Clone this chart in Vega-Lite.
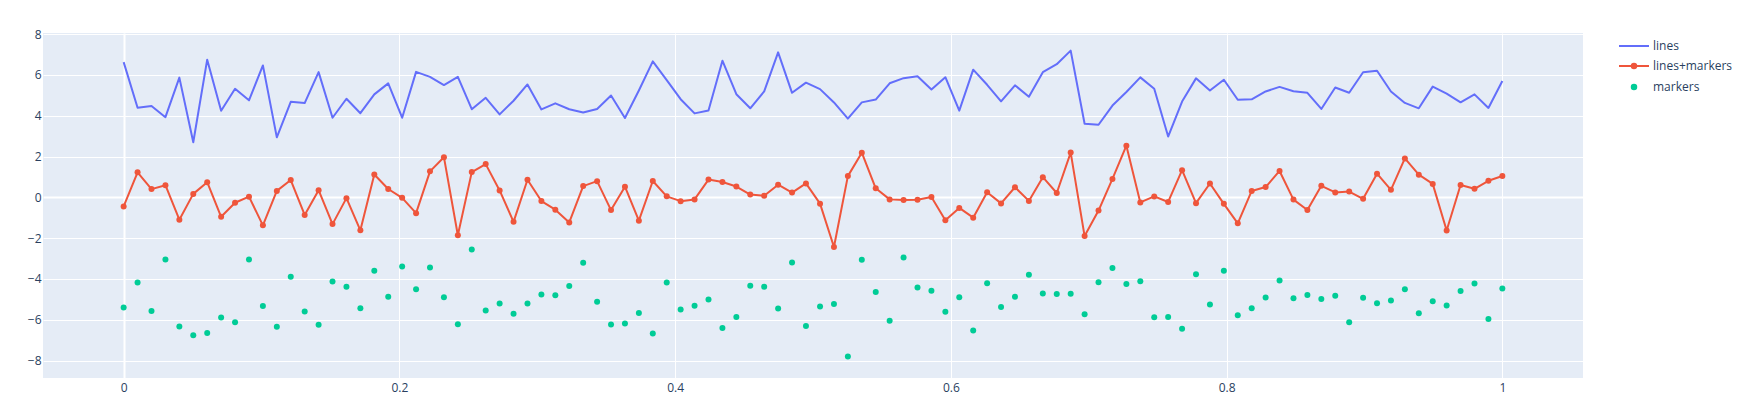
{
  "$schema": "https://vega.github.io/schema/vega-lite/v6.json",
  "autosize": {"type": "none"},
  "width": 1540,
  "height": 345,
  "padding": {"left": 43, "top": 33, "right": 175, "bottom": 35},
  "background": "white",
  "view": {"fill": "#E5ECF6", "stroke": null},
  "config": {
    "font": "Open Sans",
    "axis": {
      "domain": false,
      "ticks": false,
      "title": null,
      "grid": true,
      "gridColor": "white",
      "gridWidth": {"condition": {"test": "datum.value === 0", "value": 2}, "value": 1},
      "labelFont": "Open Sans",
      "labelFontSize": 12,
      "labelColor": "#2a3f5f"
    }
  },
  "datasets": {
    "pts": [
      {"series":"lines","x":0,"y":6.624},{"series":"lines","x":0.0101,"y":4.388},{"series":"lines","x":0.0202,"y":4.472},{"series":"lines","x":0.0303,"y":3.927},{"series":"lines","x":0.0404,"y":5.865},
      {"series":"lines","x":0.0505,"y":2.698},{"series":"lines","x":0.0606,"y":6.745},{"series":"lines","x":0.0707,"y":4.239},{"series":"lines","x":0.0808,"y":5.319},{"series":"lines","x":0.0909,"y":4.751},
      {"series":"lines","x":0.101,"y":6.462},{"series":"lines","x":0.1111,"y":2.94},{"series":"lines","x":0.1212,"y":4.678},{"series":"lines","x":0.1313,"y":4.616},{"series":"lines","x":0.1414,"y":6.134},
      {"series":"lines","x":0.1515,"y":3.9},{"series":"lines","x":0.1616,"y":4.828},{"series":"lines","x":0.1717,"y":4.122},{"series":"lines","x":0.1818,"y":5.042},{"series":"lines","x":0.1919,"y":5.583},
      {"series":"lines","x":0.202,"y":3.899},{"series":"lines","x":0.2121,"y":6.145},{"series":"lines","x":0.2222,"y":5.902},{"series":"lines","x":0.2323,"y":5.502},{"series":"lines","x":0.2424,"y":5.901},
      {"series":"lines","x":0.2525,"y":4.316},{"series":"lines","x":0.2626,"y":4.877},{"series":"lines","x":0.2727,"y":4.064},{"series":"lines","x":0.2828,"y":4.732},{"series":"lines","x":0.2929,"y":5.53},
      {"series":"lines","x":0.303,"y":4.308},{"series":"lines","x":0.3131,"y":4.603},{"series":"lines","x":0.3232,"y":4.313},{"series":"lines","x":0.3333,"y":4.155},{"series":"lines","x":0.3434,"y":4.329},
      {"series":"lines","x":0.3535,"y":4.987},{"series":"lines","x":0.3636,"y":3.883},{"series":"lines","x":0.3737,"y":5.234},{"series":"lines","x":0.3838,"y":6.66},{"series":"lines","x":0.3939,"y":5.742},
      {"series":"lines","x":0.404,"y":4.808},{"series":"lines","x":0.4141,"y":4.112},{"series":"lines","x":0.4242,"y":4.253},{"series":"lines","x":0.4343,"y":6.692},{"series":"lines","x":0.4444,"y":5.051},
      {"series":"lines","x":0.4545,"y":4.363},{"series":"lines","x":0.4646,"y":5.191},{"series":"lines","x":0.4747,"y":7.1},{"series":"lines","x":0.4848,"y":5.12},{"series":"lines","x":0.4949,"y":5.617},
      {"series":"lines","x":0.5051,"y":5.3},{"series":"lines","x":0.5152,"y":4.648},{"series":"lines","x":0.5253,"y":3.857},{"series":"lines","x":0.5354,"y":4.651},{"series":"lines","x":0.5455,"y":4.791},
      {"series":"lines","x":0.5556,"y":5.587},{"series":"lines","x":0.5657,"y":5.839},{"series":"lines","x":0.5758,"y":5.931},{"series":"lines","x":0.5859,"y":5.286},{"series":"lines","x":0.596,"y":5.885},
      {"series":"lines","x":0.6061,"y":4.246},{"series":"lines","x":0.6162,"y":6.253},{"series":"lines","x":0.6263,"y":5.513},{"series":"lines","x":0.6364,"y":4.702},{"series":"lines","x":0.6465,"y":5.489},
      {"series":"lines","x":0.6566,"y":4.924},{"series":"lines","x":0.6667,"y":6.132},{"series":"lines","x":0.6768,"y":6.52},{"series":"lines","x":0.6869,"y":7.186},{"series":"lines","x":0.697,"y":3.604},
      {"series":"lines","x":0.7071,"y":3.556},{"series":"lines","x":0.7172,"y":4.496},{"series":"lines","x":0.7273,"y":5.16},{"series":"lines","x":0.7374,"y":5.876},{"series":"lines","x":0.7475,"y":5.316},
      {"series":"lines","x":0.7576,"y":2.978},{"series":"lines","x":0.7677,"y":4.694},{"series":"lines","x":0.7778,"y":5.828},{"series":"lines","x":0.7879,"y":5.23},{"series":"lines","x":0.798,"y":5.762},
      {"series":"lines","x":0.8081,"y":4.778},{"series":"lines","x":0.8182,"y":4.799},{"series":"lines","x":0.8283,"y":5.187},{"series":"lines","x":0.8384,"y":5.41},{"series":"lines","x":0.8485,"y":5.198},
      {"series":"lines","x":0.8586,"y":5.119},{"series":"lines","x":0.8687,"y":4.329},{"series":"lines","x":0.8788,"y":5.378},{"series":"lines","x":0.8889,"y":5.122},{"series":"lines","x":0.899,"y":6.129},
      {"series":"lines","x":0.9091,"y":6.199},{"series":"lines","x":0.9192,"y":5.185},{"series":"lines","x":0.9293,"y":4.625},{"series":"lines","x":0.9394,"y":4.361},{"series":"lines","x":0.9495,"y":5.423},
      {"series":"lines","x":0.9596,"y":5.077},{"series":"lines","x":0.9697,"y":4.656},{"series":"lines","x":0.9798,"y":5.044},{"series":"lines","x":0.9899,"y":4.38},{"series":"lines","x":1,"y":5.698},

      {"series":"lines+markers","x":0,"y":-0.447},{"series":"lines+markers","x":0.0101,"y":1.225},{"series":"lines+markers","x":0.0202,"y":0.403},{"series":"lines+markers","x":0.0303,"y":0.594},{"series":"lines+markers","x":0.0404,"y":-1.095},
      {"series":"lines+markers","x":0.0505,"y":0.169},{"series":"lines+markers","x":0.0606,"y":0.741},{"series":"lines+markers","x":0.0707,"y":-0.954},{"series":"lines+markers","x":0.0808,"y":-0.266},{"series":"lines+markers","x":0.0909,"y":0.033},
      {"series":"lines+markers","x":0.101,"y":-1.373},{"series":"lines+markers","x":0.1111,"y":0.315},{"series":"lines+markers","x":0.1212,"y":0.846},{"series":"lines+markers","x":0.1313,"y":-0.86},{"series":"lines+markers","x":0.1414,"y":0.351},
      {"series":"lines+markers","x":0.1515,"y":-1.312},{"series":"lines+markers","x":0.1616,"y":-0.039},{"series":"lines+markers","x":0.1717,"y":-1.616},{"series":"lines+markers","x":0.1818,"y":1.121},{"series":"lines+markers","x":0.1919,"y":0.409},
      {"series":"lines+markers","x":0.202,"y":-0.025},{"series":"lines+markers","x":0.2121,"y":-0.775},{"series":"lines+markers","x":0.2222,"y":1.274},{"series":"lines+markers","x":0.2323,"y":1.967},{"series":"lines+markers","x":0.2424,"y":-1.858},
      {"series":"lines+markers","x":0.2525,"y":1.236},{"series":"lines+markers","x":0.2626,"y":1.628},{"series":"lines+markers","x":0.2727,"y":0.338},{"series":"lines+markers","x":0.2828,"y":-1.199},{"series":"lines+markers","x":0.2929,"y":0.863},
      {"series":"lines+markers","x":0.303,"y":-0.181},{"series":"lines+markers","x":0.3131,"y":-0.604},{"series":"lines+markers","x":0.3232,"y":-1.23},{"series":"lines+markers","x":0.3333,"y":0.551},{"series":"lines+markers","x":0.3434,"y":0.793},
      {"series":"lines+markers","x":0.3535,"y":-0.624},{"series":"lines+markers","x":0.3636,"y":0.521},{"series":"lines+markers","x":0.3737,"y":-1.144},{"series":"lines+markers","x":0.3838,"y":0.802},{"series":"lines+markers","x":0.3939,"y":0.047},
      {"series":"lines+markers","x":0.404,"y":-0.187},{"series":"lines+markers","x":0.4141,"y":-0.102},{"series":"lines+markers","x":0.4242,"y":0.869},{"series":"lines+markers","x":0.4343,"y":0.75},{"series":"lines+markers","x":0.4444,"y":0.529},
      {"series":"lines+markers","x":0.4545,"y":0.138},{"series":"lines+markers","x":0.4646,"y":0.078},{"series":"lines+markers","x":0.4747,"y":0.618},{"series":"lines+markers","x":0.4848,"y":0.232},{"series":"lines+markers","x":0.4949,"y":0.683},
      {"series":"lines+markers","x":0.5051,"y":-0.31},{"series":"lines+markers","x":0.5152,"y":-2.435},{"series":"lines+markers","x":0.5253,"y":1.039},{"series":"lines+markers","x":0.5354,"y":2.187},{"series":"lines+markers","x":0.5455,"y":0.441},
      {"series":"lines+markers","x":0.5556,"y":-0.1},{"series":"lines+markers","x":0.5657,"y":-0.136},{"series":"lines+markers","x":0.5758,"y":-0.119},{"series":"lines+markers","x":0.5859,"y":0.017},{"series":"lines+markers","x":0.596,"y":-1.122},
      {"series":"lines+markers","x":0.6061,"y":-0.517},{"series":"lines+markers","x":0.6162,"y":-0.997},{"series":"lines+markers","x":0.6263,"y":0.249},{"series":"lines+markers","x":0.6364,"y":-0.297},{"series":"lines+markers","x":0.6465,"y":0.495},
      {"series":"lines+markers","x":0.6566,"y":-0.175},{"series":"lines+markers","x":0.6667,"y":0.986},{"series":"lines+markers","x":0.6768,"y":0.214},{"series":"lines+markers","x":0.6869,"y":2.191},{"series":"lines+markers","x":0.697,"y":-1.896},
      {"series":"lines+markers","x":0.7071,"y":-0.647},{"series":"lines+markers","x":0.7172,"y":0.901},{"series":"lines+markers","x":0.7273,"y":2.528},{"series":"lines+markers","x":0.7374,"y":-0.249},{"series":"lines+markers","x":0.7475,"y":0.044},
      {"series":"lines+markers","x":0.7576,"y":-0.226},{"series":"lines+markers","x":0.7677,"y":1.331},{"series":"lines+markers","x":0.7778,"y":-0.287},{"series":"lines+markers","x":0.7879,"y":0.68},{"series":"lines+markers","x":0.798,"y":-0.32},
      {"series":"lines+markers","x":0.8081,"y":-1.273},{"series":"lines+markers","x":0.8182,"y":0.314},{"series":"lines+markers","x":0.8283,"y":0.503},{"series":"lines+markers","x":0.8384,"y":1.293},{"series":"lines+markers","x":0.8485,"y":-0.11},
      {"series":"lines+markers","x":0.8586,"y":-0.617},{"series":"lines+markers","x":0.8687,"y":0.563},{"series":"lines+markers","x":0.8788,"y":0.241},{"series":"lines+markers","x":0.8889,"y":0.281},{"series":"lines+markers","x":0.899,"y":-0.073},
      {"series":"lines+markers","x":0.9091,"y":1.16},{"series":"lines+markers","x":0.9192,"y":0.369},{"series":"lines+markers","x":0.9293,"y":1.905},{"series":"lines+markers","x":0.9394,"y":1.111},{"series":"lines+markers","x":0.9495,"y":0.659},
      {"series":"lines+markers","x":0.9596,"y":-1.627},{"series":"lines+markers","x":0.9697,"y":0.602},{"series":"lines+markers","x":0.9798,"y":0.42},{"series":"lines+markers","x":0.9899,"y":0.811},{"series":"lines+markers","x":1,"y":1.044},

      {"series":"markers","x":0,"y":-5.401},{"series":"markers","x":0.0101,"y":-4.176},{"series":"markers","x":0.0202,"y":-5.562},{"series":"markers","x":0.0303,"y":-3.045},{"series":"markers","x":0.0404,"y":-6.332},
      {"series":"markers","x":0.0505,"y":-6.761},{"series":"markers","x":0.0606,"y":-6.651},{"series":"markers","x":0.0707,"y":-5.891},{"series":"markers","x":0.0808,"y":-6.119},{"series":"markers","x":0.0909,"y":-3.044},
      {"series":"markers","x":0.101,"y":-5.326},{"series":"markers","x":0.1111,"y":-6.343},{"series":"markers","x":0.1212,"y":-3.886},{"series":"markers","x":0.1313,"y":-5.587},{"series":"markers","x":0.1414,"y":-6.237},
      {"series":"markers","x":0.1515,"y":-4.124},{"series":"markers","x":0.1616,"y":-4.377},{"series":"markers","x":0.1717,"y":-5.435},{"series":"markers","x":0.1818,"y":-3.592},{"series":"markers","x":0.1919,"y":-4.871},
      {"series":"markers","x":0.202,"y":-3.383},{"series":"markers","x":0.2121,"y":-4.497},{"series":"markers","x":0.2222,"y":-3.441},{"series":"markers","x":0.2323,"y":-4.891},{"series":"markers","x":0.2424,"y":-6.22},
      {"series":"markers","x":0.2525,"y":-2.551},{"series":"markers","x":0.2626,"y":-5.546},{"series":"markers","x":0.2727,"y":-5.199},{"series":"markers","x":0.2828,"y":-5.7},{"series":"markers","x":0.2929,"y":-5.203},
      {"series":"markers","x":0.303,"y":-4.757},{"series":"markers","x":0.3131,"y":-4.798},{"series":"markers","x":0.3232,"y":-4.339},{"series":"markers","x":0.3333,"y":-3.208},{"series":"markers","x":0.3434,"y":-5.12},
      {"series":"markers","x":0.3535,"y":-6.233},{"series":"markers","x":0.3636,"y":-6.182},{"series":"markers","x":0.3737,"y":-5.666},{"series":"markers","x":0.3838,"y":-6.674},{"series":"markers","x":0.3939,"y":-4.175},
      {"series":"markers","x":0.404,"y":-5.498},{"series":"markers","x":0.4141,"y":-5.311},{"series":"markers","x":0.4242,"y":-5.002},{"series":"markers","x":0.4343,"y":-6.397},{"series":"markers","x":0.4444,"y":-5.861},
      {"series":"markers","x":0.4545,"y":-4.325},{"series":"markers","x":0.4646,"y":-4.381},{"series":"markers","x":0.4747,"y":-5.443},{"series":"markers","x":0.4848,"y":-3.189},{"series":"markers","x":0.4949,"y":-6.306},
      {"series":"markers","x":0.5051,"y":-5.345},{"series":"markers","x":0.5152,"y":-5.231},{"series":"markers","x":0.5253,"y":-7.793},{"series":"markers","x":0.5354,"y":-3.062},{"series":"markers","x":0.5455,"y":-4.634},
      {"series":"markers","x":0.5556,"y":-6.045},{"series":"markers","x":0.5657,"y":-2.949},{"series":"markers","x":0.5758,"y":-4.414},{"series":"markers","x":0.5859,"y":-4.57},{"series":"markers","x":0.596,"y":-5.606},
      {"series":"markers","x":0.6061,"y":-4.894},{"series":"markers","x":0.6162,"y":-6.526},{"series":"markers","x":0.6263,"y":-4.205},{"series":"markers","x":0.6364,"y":-5.374},{"series":"markers","x":0.6465,"y":-4.866},
      {"series":"markers","x":0.6566,"y":-3.798},{"series":"markers","x":0.6667,"y":-4.715},{"series":"markers","x":0.6768,"y":-4.738},{"series":"markers","x":0.6869,"y":-4.724},{"series":"markers","x":0.697,"y":-5.733},
      {"series":"markers","x":0.7071,"y":-4.164},{"series":"markers","x":0.7172,"y":-3.457},{"series":"markers","x":0.7273,"y":-4.241},{"series":"markers","x":0.7374,"y":-4.115},{"series":"markers","x":0.7475,"y":-5.877},
      {"series":"markers","x":0.7576,"y":-5.868},{"series":"markers","x":0.7677,"y":-6.441},{"series":"markers","x":0.7778,"y":-3.768},{"series":"markers","x":0.7879,"y":-5.254},{"series":"markers","x":0.798,"y":-3.6},
      {"series":"markers","x":0.8081,"y":-5.782},{"series":"markers","x":0.8182,"y":-5.438},{"series":"markers","x":0.8283,"y":-4.905},{"series":"markers","x":0.8384,"y":-4.079},{"series":"markers","x":0.8485,"y":-4.939},
      {"series":"markers","x":0.8586,"y":-4.789},{"series":"markers","x":0.8687,"y":-4.983},{"series":"markers","x":0.8788,"y":-4.823},{"series":"markers","x":0.8889,"y":-6.116},{"series":"markers","x":0.899,"y":-4.919},
      {"series":"markers","x":0.9091,"y":-5.187},{"series":"markers","x":0.9192,"y":-5.057},{"series":"markers","x":0.9293,"y":-4.508},{"series":"markers","x":0.9394,"y":-5.681},{"series":"markers","x":0.9495,"y":-5.085},
      {"series":"markers","x":0.9596,"y":-5.297},{"series":"markers","x":0.9697,"y":-4.583},{"series":"markers","x":0.9798,"y":-4.215},{"series":"markers","x":0.9899,"y":-5.955},{"series":"markers","x":1,"y":-4.46}
    ]
  },
  "data": {"name": "pts"},
  "encoding": {
    "x": {
      "field": "x",
      "type": "quantitative",
      "scale": {"domain": [-0.0585, 1.0585], "nice": false, "zero": false},
      "axis": {"values": [0, 0.2, 0.4, 0.6, 0.8, 1], "format": "~g", "labelPadding": 4}
    },
    "y": {
      "field": "y",
      "type": "quantitative",
      "scale": {"domain": [-8.85, 8.05], "nice": false, "zero": false},
      "axis": {"values": [-8, -6, -4, -2, 0, 2, 4, 6, 8], "labelPadding": 2}
    }
  },
  "layer": [
    {
      "transform": [{"filter": "datum.series === 'lines'"}],
      "mark": {"type": "line", "color": "#636efa", "strokeWidth": 2, "strokeJoin": "round"}
    },
    {
      "transform": [{"filter": "datum.series === 'lines+markers'"}],
      "mark": {"type": "line", "color": "#EF553B", "strokeWidth": 2, "strokeJoin": "round"}
    },
    {
      "transform": [{"filter": "datum.series === 'lines+markers'"}],
      "mark": {"type": "point", "filled": true, "color": "#EF553B", "size": 36, "opacity": 1}
    },
    {
      "transform": [{"filter": "datum.series === 'markers'"}],
      "mark": {"type": "point", "filled": true, "color": "#00cc96", "size": 36, "opacity": 1}
    },
    {
      "transform": [{"filter": "datum.x === 0"}],
      "mark": {"type": "point", "filled": true, "opacity": 0},
      "encoding": {
        "color": {
          "field": "series",
          "type": "nominal",
          "scale": {"domain": ["lines", "lines+markers", "markers"], "range": ["#636efa", "#EF553B", "#00cc96"]},
          "legend": {
            "title": null,
            "orient": "none",
            "legendX": 1585,
            "legendY": 7,
            "symbolSize": 100,
            "symbolOpacity": 1,
            "symbolStrokeWidth": 2,
            "labelOffset": 13,
            "rowPadding": 7,
            "labelFont": "Open Sans",
            "labelFontSize": 12,
            "labelColor": "#2a3f5f",
            "encode": {
              "symbols": {
                "update": {
                  "fill": {"scale": "color", "field": "value"},
                  "stroke": {"scale": "color", "field": "value"},
                  "strokeWidth": {"value": 2},
                  "opacity": {"value": 1}
                }
              }
            }
          }
        },
        "shape": {
          "field": "series",
          "type": "nominal",
          "scale": {
            "domain": ["lines", "lines+markers", "markers"],
            "range": [
              "M-3,0H3",
              "M-3,0H3M-0.45,0A0.45,0.45,0,1,0,0.45,0A0.45,0.45,0,1,0,-0.45,0Z",
              "M-0.45,0A0.45,0.45,0,1,0,0.45,0A0.45,0.45,0,1,0,-0.45,0Z"
            ]
          }
        }
      }
    }
  ]
}
